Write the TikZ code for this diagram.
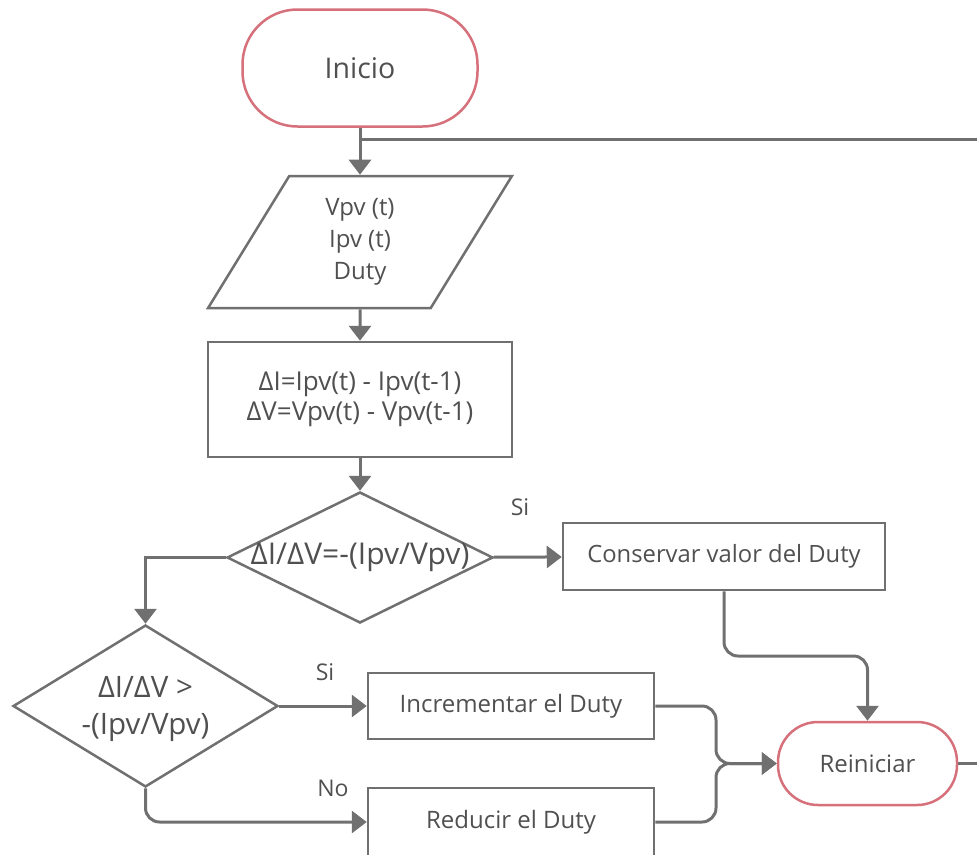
\documentclass[tikz,border=0pt]{standalone}
\usepackage{fontspec}
\setmainfont{Open Sans}
\usetikzlibrary{arrows.meta,shapes.geometric,calc}

\definecolor{gris}{RGB}{112,112,112}
\definecolor{rosa}{RGB}{214,112,122}
\definecolor{texto}{RGB}{80,80,80}

\begin{document}
\begin{tikzpicture}[x=1pt,y=-1pt,
    linea/.style={draw=gris, line width=3pt},
    flecha/.style={linea, -{Triangle[length=15pt,width=22pt]}},
    terminal/.style={draw=rosa, line width=2.5pt, fill=white, text=texto},
    caja/.style={draw=gris, line width=2.5pt, fill=white, text=texto, align=center},
    datos/.style={caja, trapezium, trapezium left angle=65, trapezium right angle=115,
        trapezium stretches=true, minimum width=304pt, minimum height=132pt},
    decision/.style={draw=gris, line width=2.5pt, fill=white, diamond, inner sep=0pt},
    rotulo/.style={text=texto, font=\fontsize{23}{25}\selectfont}]
    \clip (0,0) rectangle (977,854);
    % bloques del diagrama
    \node[terminal, minimum width=235pt, minimum height=117pt, rounded corners=55pt,
        font=\fontsize{28.5}{30}\selectfont] (inicio) at (360,68) {Inicio};
    \node[datos, font=\fontsize{24}{31}\selectfont] (lectura) at (360,242)
        {\raisebox{-4pt}{\shortstack{Vpv (t)\\[6pt]Ipv (t)\\[6pt]Duty}}};
    \node[caja, minimum width=304pt, minimum height=115pt, font=\fontsize{26}{30}\selectfont]
        (calculo) at (360,399.5) {ΔI=Ipv(t) - Ipv(t-1)\\ΔV=Vpv(t) - Vpv(t-1)};
    \node[decision, minimum width=266pt, minimum height=131pt,
        label={[text=texto, font=\fontsize{30}{32}\selectfont]center:{ΔI/ΔV=-(Ipv/Vpv)}}]
        (igual) at (360,557.5) {};
    \node[caja, minimum width=322pt, minimum height=67pt, font=\fontsize{23.8}{26}\selectfont]
        (conservar) at (724,556.5) {Conservar valor del Duty};
    \node[decision, minimum width=265pt, minimum height=162pt,
        label={[text=texto, align=center, yshift=-3pt, font=\fontsize{29.5}{37}\selectfont]center:{ΔI/ΔV >\\-(Ipv/Vpv)}}]
        (mayor) at (145.5,706) {};
    \node[caja, minimum width=286pt, minimum height=66pt, font=\fontsize{24}{26}\selectfont]
        (incrementar) at (511,706) {Incrementar el Duty};
    \node[caja, minimum width=286pt, minimum height=68pt, font=\fontsize{24}{26}\selectfont]
        (reducir) at (511,822) {Reducir el Duty};
    \node[terminal, minimum width=179pt, minimum height=83pt, rounded corners=40pt,
        font=\fontsize{24}{26}\selectfont] (reiniciar) at (867.5,763.5) {Reiniciar};

    % puntos de paso
    \coordinate (retorno) at (360,139);
    \coordinate (union) at (716,763.5);
    \coordinate (derecha) at (1000,763.5);

    % conexiones
    \draw[flecha] (inicio) -- (lectura);
    \draw[flecha] (lectura) -- (calculo);
    \draw[flecha] (calculo) -- (igual);
    \draw[flecha] (igual) -- (conservar);
    \draw[flecha] (igual.west) -| (mayor.north);
    \draw[flecha] (mayor) -- (incrementar);
    \draw[flecha, rounded corners=14pt] (mayor.south) |- (reducir.west);
    \draw[flecha, rounded corners=14pt] (conservar.south) |- ($(conservar.south)!0.5!(reiniciar.north)$) -| (reiniciar.north);
    \draw[flecha, rounded corners=14pt] (incrementar.east) -| (union) -- (reiniciar.west);
    \draw[flecha, rounded corners=14pt] (reducir.east) -| (union) -- (reiniciar.west);
    \draw[linea] (reiniciar.east) -- (derecha) |- (retorno);

    % etiquetas de las ramas
    \node[rotulo] (si1) at (520,507) {Si};
    \node[rotulo] (si2) at (325,672) {Si};
    \node[rotulo] (no) at (333,788) {No};
\end{tikzpicture}
\end{document}
